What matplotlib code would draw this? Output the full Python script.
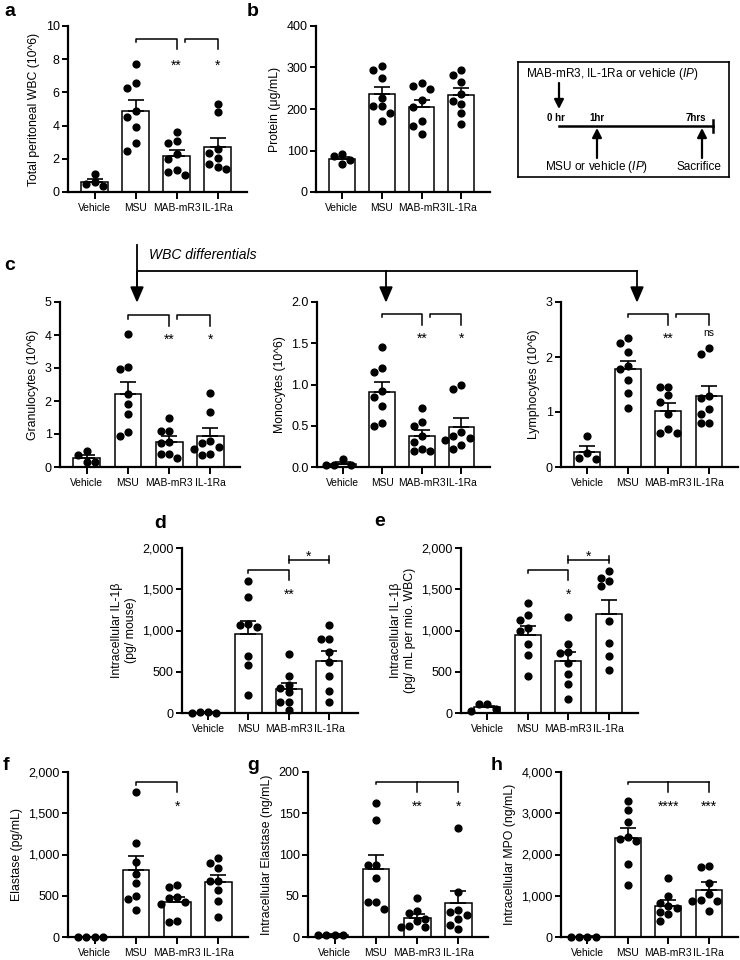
import numpy as np
import matplotlib
matplotlib.use('Agg')
import matplotlib.pyplot as plt
from matplotlib.ticker import FuncFormatter
from matplotlib.patches import Polygon

plt.rcParams['font.family'] = ['Liberation Sans', 'DejaVu Sans']
plt.rcParams['mathtext.fontset'] = 'custom'
plt.rcParams['mathtext.it'] = 'Liberation Sans:italic'
plt.rcParams['mathtext.rm'] = 'Liberation Sans'

W, H = 740, 960
groups = ['Vehicle', 'MSU', 'MAB-mR3', 'IL-1Ra']

# ---- data ----
wbc_mean = [0.6, 4.85, 2.15, 2.7]
wbc_sem = [0.2, 0.7, 0.4, 0.55]
wbc_pts = [[1.1, 0.6, 0.5, 0.35],
           [7.7, 6.55, 6.25, 4.9, 4.5, 3.9, 2.95, 2.5],
           [3.6, 3.1, 2.95, 2.3, 2.0, 1.35, 1.2, 1.05],
           [5.3, 4.8, 2.6, 2.35, 2.05, 1.7, 1.5, 1.4]]

prot_mean = [80, 235, 205, 233]
prot_sem = [5, 18, 17, 17]
prot_pts = [[87, 91, 78, 68],
            [304, 294, 275, 227, 208, 207, 190, 171],
            [262, 255, 248, 222, 205, 170, 160, 140],
            [294, 283, 264, 236, 219, 213, 190, 165]]

gran_mean = [0.28, 2.2, 0.77, 0.93]
gran_sem = [0.08, 0.38, 0.16, 0.24]
gran_pts = [[0.47, 0.37, 0.15, 0.15],
            [4.04, 3.04, 2.97, 2.21, 1.9, 1.6, 1.06, 0.93],
            [1.47, 1.1, 1.1, 0.75, 0.72, 0.4, 0.4, 0.28],
            [2.23, 1.68, 0.78, 0.72, 0.62, 0.55, 0.38, 0.36]]

mono_mean = [0.04, 0.91, 0.38, 0.49]
mono_sem = [0.02, 0.12, 0.07, 0.11]
mono_pts = [[0.03, 0.02, 0.02, 0.1],
            [1.45, 1.2, 1.15, 0.92, 0.85, 0.74, 0.53, 0.5],
            [0.72, 0.54, 0.5, 0.38, 0.3, 0.22, 0.19, 0.19],
            [1.0, 0.95, 0.42, 0.38, 0.35, 0.33, 0.27, 0.22]]

lymph_mean = [0.28, 1.78, 1.02, 1.29]
lymph_sem = [0.1, 0.15, 0.14, 0.19]
lymph_pts = [[0.57, 0.25, 0.16, 0.15],
             [2.34, 2.26, 2.09, 1.83, 1.78, 1.59, 1.34, 1.07],
             [1.46, 1.46, 1.31, 1.19, 0.97, 0.7, 0.62, 0.62],
             [2.17, 2.05, 1.3, 1.25, 1.05, 0.97, 0.8, 0.8]]

il1b_mouse_mean = [5, 955, 290, 635]
il1b_mouse_sem = [2, 160, 75, 120]
il1b_mouse_pts = [[8, 0, 0, 10],
                  [1596, 1402, 1079, 1071, 1042, 687, 578, 222],
                  [715, 444, 343, 303, 250, 133, 133, 32],
                  [1062, 897, 897, 740, 614, 444, 271, 133]]

il1b_wbc_mean = [70, 950, 630, 1200]
il1b_wbc_sem = [20, 110, 115, 170]
il1b_wbc_pts = [[115, 110, 50, 25],
                [1333, 1184, 1131, 1030, 990, 836, 707, 452],
                [1160, 840, 735, 727, 606, 477, 352, 170],
                [1717, 1636, 1596, 1543, 1111, 848, 687, 525]]

elast_mean = [0, 815, 420, 670]
elast_sem = [0, 170, 70, 85]
elast_pts = [[0, 0, 0, 0],
             [1758, 1135, 913, 766, 652, 503, 463, 330],
             [630, 610, 490, 470, 430, 400, 200, 177],
             [954, 893, 833, 684, 680, 571, 431, 241]]

ielast_mean = [3, 83, 23, 41]
ielast_sem = [0.3, 17, 5, 15]
ielast_pts = [[3, 3, 3, 3],
              [162, 142, 87, 87, 72, 43, 42, 34],
              [47, 31, 29, 22, 19, 13, 12, 12],
              [132, 55, 33, 30, 27, 22, 15, 10]]

mpo_mean = [10, 2390, 760, 1150]
mpo_sem = [5, 250, 125, 185]
mpo_pts = [[10, 10, 10, 10],
           [3300, 3080, 2800, 2430, 2380, 2330, 1780, 1260],
           [1420, 1000, 820, 760, 700, 600, 560, 380],
           [1720, 1706, 1320, 1050, 900, 880, 880, 640]]

XLIM = (-0.65, 3.72)

fig = plt.figure(figsize=(W / 100, H / 100), dpi=100)


def pxbox(x0, y0, x1, y1):
    return [x0 / W, 1 - y1 / H, (x1 - x0) / W, (y1 - y0) / H]


def swarm_x(xc, vals, ymax, hpx, wpx):
    # simple beeswarm in pixel space
    py = hpx / ymax
    pxu = wpx / (XLIM[1] - XLIM[0])
    step, dmin = 8.3, 7.6
    placed, out = [], np.zeros(len(vals))
    for i in np.argsort(vals)[::-1]:
        y = vals[i] * py
        for k in [0, -1, 1, -2, 2, -3, 3]:
            x = k * step
            if all((x - a) ** 2 + (y - b) ** 2 >= dmin ** 2 for a, b in placed):
                break
        placed.append((x, y))
        out[i] = xc + x / pxu
    return out


comma = FuncFormatter(lambda v, p: f'{v:,.0f}')


def panel(box, means, sems, pts, ymax, ystep, ylabel, fmt=None):
    ax = fig.add_axes(pxbox(*box))
    x = np.arange(4)
    ax.bar(x, means, width=0.65, color='white', edgecolor='black', lw=1.1, zorder=2)
    ax.errorbar(x, means, yerr=[[0] * 4, sems], fmt='none', ecolor='black',
                elinewidth=1.2, capsize=5.5, capthick=1.2, zorder=3)
    hpx, wpx = box[3] - box[1], box[2] - box[0]
    for i, vals in enumerate(pts):
        xs = swarm_x(i, np.array(vals, float), ymax, hpx, wpx)
        ax.plot(xs, vals, 'o', color='black', ms=4.9, zorder=4, clip_on=False)
    ax.set_xlim(*XLIM)
    ax.set_ylim(0, ymax)
    ax.set_yticks(np.arange(0, ymax + ystep / 2, ystep))
    if fmt is not None:
        ax.yaxis.set_major_formatter(fmt)
    ax.set_xticks(x)
    ax.set_xticklabels(groups, fontsize=7.4)
    ax.tick_params(axis='y', labelsize=9, length=4, width=1.4, pad=2)
    ax.tick_params(axis='x', length=5, width=1.4, pad=3)
    for s in ['top', 'right']:
        ax.spines[s].set_visible(False)
    for s in ['left', 'bottom']:
        ax.spines[s].set_linewidth(1.6)
    ax.set_ylabel(ylabel, fontsize=8.8, labelpad=4)
    return ax


def stars(ax, x, y, label):
    # y is the visual centre of the glyphs
    if label == 'ns':
        ax.annotate(label, (x, y), xytext=(0, -2.2), textcoords='offset points',
                    ha='center', va='baseline', fontsize=7.5)
    else:
        ax.annotate(label, (x, y), xytext=(0, -5.6), textcoords='offset points',
                    ha='center', va='baseline', fontsize=10)


def step_bracket(ax, x0, x1, y, yl, yr, label, ly):
    ax.plot([x0, x0, x1, x1], [yl, y, y, yr], color='black', lw=1.1, clip_on=False)
    stars(ax, x1, ly, label)


def span_bracket(ax, x0, x1, y, dy, label, ly):
    ax.plot([x0, x1], [y, y], color='black', lw=1.1, clip_on=False)
    for xx in (x0, x1):
        ax.plot([xx, xx], [y - dy, y + dy], color='black', lw=1.1, clip_on=False)
    stars(ax, (x0 + x1) / 2, ly, label)


def multi_bracket(ax, x0, x1, y, yl, targets, ytgt, labels, ly):
    ax.plot([x0, x0, x1], [yl, y, y], color='black', lw=1.1, clip_on=False)
    for xx, lab in zip(targets, labels):
        ax.plot([xx, xx], [y, ytgt], color='black', lw=1.1, clip_on=False)
        stars(ax, xx, ly, lab)


# ---- panel a ----
ax = panel((68, 26, 247, 192), wbc_mean, wbc_sem, wbc_pts, 10, 2,
           'Total peritoneal WBC (10^6)')
step_bracket(ax, 1, 2, 9.2, 9.05, 8.6, '**', 7.85)
step_bracket(ax, 2.2, 3, 9.2, 9.05, 8.6, '*', 7.85)

# ---- panel b ----
panel((316, 26, 490, 192), prot_mean, prot_sem, prot_pts, 400, 100,
      'Protein (\u03bcg/mL)')

# ---- panel c ----
ax = panel((60, 302, 240, 467), gran_mean, gran_sem, gran_pts, 5, 1,
           'Granulocytes (10^6)')
step_bracket(ax, 1, 2, 4.6, 4.5, 4.28, '**', 3.98)
step_bracket(ax, 2.2, 3, 4.6, 4.5, 4.28, '*', 3.98)

ax = panel((317, 302, 490, 467), mono_mean, mono_sem, mono_pts, 2.0, 0.5,
           'Monocytes (10^6)', FuncFormatter(lambda v, p: f'{v:.1f}'))
step_bracket(ax, 1, 2, 1.86, 1.82, 1.72, '**', 1.6)
step_bracket(ax, 2.2, 3, 1.86, 1.82, 1.72, '*', 1.6)

ax = panel((561, 302, 738, 467), lymph_mean, lymph_sem, lymph_pts, 3, 1,
           'Lymphocytes (10^6)')
step_bracket(ax, 1, 2, 2.79, 2.73, 2.58, '**', 2.4)
step_bracket(ax, 2.2, 3, 2.79, 2.73, 2.58, 'ns', 2.43)

# ---- panel d ----
ax = panel((182, 548, 358, 713), il1b_mouse_mean, il1b_mouse_sem, il1b_mouse_pts,
           2000, 500, 'Intracellular IL-1\u03b2\n(pg/ mouse)', comma)
step_bracket(ax, 1, 2, 1737, 1700, 1616, '**', 1483)
span_bracket(ax, 2, 3, 1859, 45, '*', 1935)

# ---- panel e ----
ax = panel((461, 548, 638, 713), il1b_wbc_mean, il1b_wbc_sem, il1b_wbc_pts,
           2000, 500, 'Intracellular IL-1\u03b2\n(pg/ mL per mio. WBC)', comma)
step_bracket(ax, 1, 2, 1737, 1700, 1616, '*', 1480)
span_bracket(ax, 2, 3, 1859, 45, '*', 1935)

# ---- panels f, g, h ----
ax = panel((68, 772, 248, 937), elast_mean, elast_sem, elast_pts, 2000, 500,
           'Elastase (pg/mL)', comma)
step_bracket(ax, 1, 2, 1879, 1840, 1758, '*', 1625)

ax = panel((308, 772, 488, 937), ielast_mean, ielast_sem, ielast_pts, 200, 50,
           'Intracellular Elastase (ng/mL)')
multi_bracket(ax, 1, 3, 188, 186, [2, 3], 176, ['**', '*'], 162)

ax = panel((561, 772, 738, 937), mpo_mean, mpo_sem, mpo_pts, 4000, 1000,
           'Intracellular MPO (ng/mL)', comma)
multi_bracket(ax, 1, 3, 3758, 3720, [2, 3], 3517, ['****', '***'], 3250)

# ---- overlay for letters, header arrows ----
ov = fig.add_axes([0, 0, 1, 1], zorder=-1)
ov.set_xlim(0, W)
ov.set_ylim(H, 0)
ov.axis('off')
for lab, (lx, ly) in {'a': (10, 12), 'b': (253, 12), 'c': (10, 265), 'd': (160, 523),
                      'e': (380, 521), 'f': (6, 765), 'g': (253, 765),
                      'h': (497, 765)}.items():
    ov.text(lx, ly, lab, fontsize=14, fontweight='bold', ha='center', va='center')

hy = 271
ov.plot([137, 137], [245, 290], color='black', lw=1.3)
ov.plot([137, 637], [hy, hy], color='black', lw=1.3)
for ax_x in (137, 386, 637):
    ov.plot([ax_x, ax_x], [hy, 290], color='black', lw=1.3)
    ov.add_patch(Polygon([[ax_x - 6, 287], [ax_x + 6, 287], [ax_x, 301]],
                         closed=True, color='black'))
ov.text(149, 255, 'WBC differentials', fontsize=10, style='italic', va='center')

# ---- timeline box ----
tb = fig.add_axes(pxbox(518, 62, 729, 177))
tb.set_xlim(518, 729)
tb.set_ylim(177, 62)
tb.set_xticks([])
tb.set_yticks([])
for s in tb.spines.values():
    s.set_linewidth(1.2)
tb.text(526, 74, 'MAB-mR3, IL-1Ra or vehicle ($\\mathit{IP}$)', fontsize=8.5, va='center')
arrow = dict(arrowstyle='-|>,head_length=0.55,head_width=0.28', lw=1.6, color='black',
             shrinkA=0, shrinkB=0)
tb.annotate('', xy=(559, 109), xytext=(559, 83), arrowprops=arrow)
tb.annotate('', xy=(597, 128), xytext=(597, 158), arrowprops=arrow)
tb.annotate('', xy=(702, 128), xytext=(702, 158), arrowprops=arrow)
tb.plot([559, 713], [126, 126], color='black', lw=1.8)
tb.plot([713, 713], [120, 132], color='black', lw=1.8)
for tx, t in [(556, '0 hr'), (597, '1hr'), (696, '7hrs')]:
    tb.text(tx, 118, t, fontsize=7, fontweight='bold', ha='center', va='center')
tb.text(597, 167, 'MSU or vehicle ($\\mathit{IP}$)', fontsize=8.5, ha='center', va='center')
tb.text(699, 167, 'Sacrifice', fontsize=8.5, ha='center', va='center')

fig.savefig('out.png', dpi=100)
